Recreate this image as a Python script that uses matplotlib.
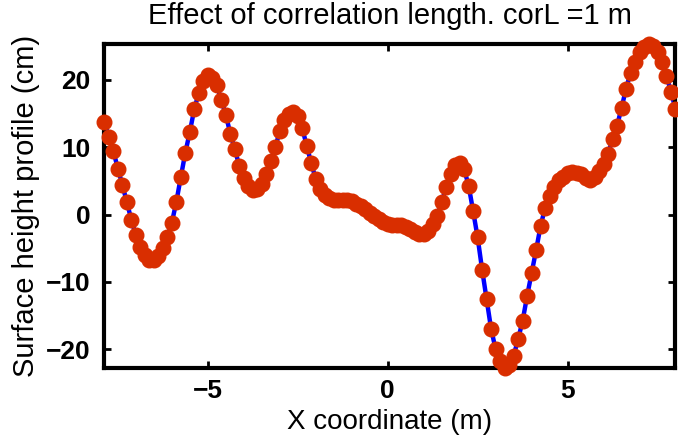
import numpy as np
import matplotlib
matplotlib.use("Agg")
import matplotlib.pyplot as plt

plt.rcParams['font.family'] = ['Liberation Sans', 'DejaVu Sans']

# surface profile sampled every 0.125 m
x = np.arange(1, 129) * 0.125 - 8.0
h = [13.7, 11.5, 9.4, 6.8, 4.4, 1.8, -0.8, -3.1, -4.8, -6.0,
     -6.7, -6.7, -6.1, -5.0, -3.3, -1.2, 1.9, 5.6, 9.2, 12.3,
     15.7, 18.1, 19.9, 20.7, 20.3, 19.2, 17.0, 14.8, 12.0, 9.7,
     7.2, 5.4, 4.2, 3.6, 3.8, 4.6, 6.0, 8.0, 10.0, 12.4,
     14.0, 14.9, 15.2, 14.7, 12.8, 10.2, 7.6, 5.3, 3.8, 2.9,
     2.4, 2.2, 2.1, 2.2, 2.2, 2.0, 1.6, 1.2, 0.8, 0.3,
     -0.2, -0.7, -1.1, -1.4, -1.5, -1.5, -1.6, -1.8, -2.2, -2.6,
     -2.9, -2.9, -2.4, -1.4, -0.2, 1.8, 4.1, 6.0, 7.3, 7.7,
     6.7, 4.3, 0.5, -3.4, -8.2, -12.6, -17.0, -20.0, -21.7, -22.8,
     -22.3, -21.0, -18.5, -15.8, -12.1, -8.7, -5.3, -1.7, 1.0, 2.8,
     4.1, 5.1, 5.6, 6.2, 6.3, 6.2, 6.0, 5.5, 5.2, 5.6,
     6.5, 7.5, 9.0, 11.2, 13.2, 15.8, 18.7, 21.0, 22.7, 24.1,
     24.9, 25.4, 25.0, 24.1, 22.6, 20.6, 18.2, 15.7]

fig = plt.figure(figsize=(6.78, 4.44), dpi=100)
ax = fig.add_axes([0.154, 0.171, 0.8423, 0.731])

ax.plot(x, h, color='blue', linewidth=3.2, zorder=2)
ax.plot(x, h, linestyle='none', marker='o', markersize=10.5,
        color=(0.85, 0.18, 0.0), zorder=3, clip_on=False)

ax.set_xlim(x[0], x[-1])
ax.set_ylim(min(h), max(h))
ax.set_xticks([-5, 0, 5])
ax.set_yticks([-20, -10, 0, 10, 20])

for s in ax.spines.values():
    s.set_linewidth(3)
ax.tick_params(direction='in', length=5, width=2, top=True, right=True,
               labelsize=19)
ax.tick_params(axis='y', pad=10)
ax.tick_params(axis='x', pad=8)
for lab in ax.get_xticklabels() + ax.get_yticklabels():
    lab.set_fontweight('bold')

ax.set_xlabel("X coordinate (m)", fontsize=20, labelpad=4)
ax.set_ylabel("Surface height profile (cm)", fontsize=21, labelpad=4)
ax.set_title("Effect of correlation length. corL =1 m", fontsize=21, pad=14)

fig.savefig("out.png", dpi=100)
